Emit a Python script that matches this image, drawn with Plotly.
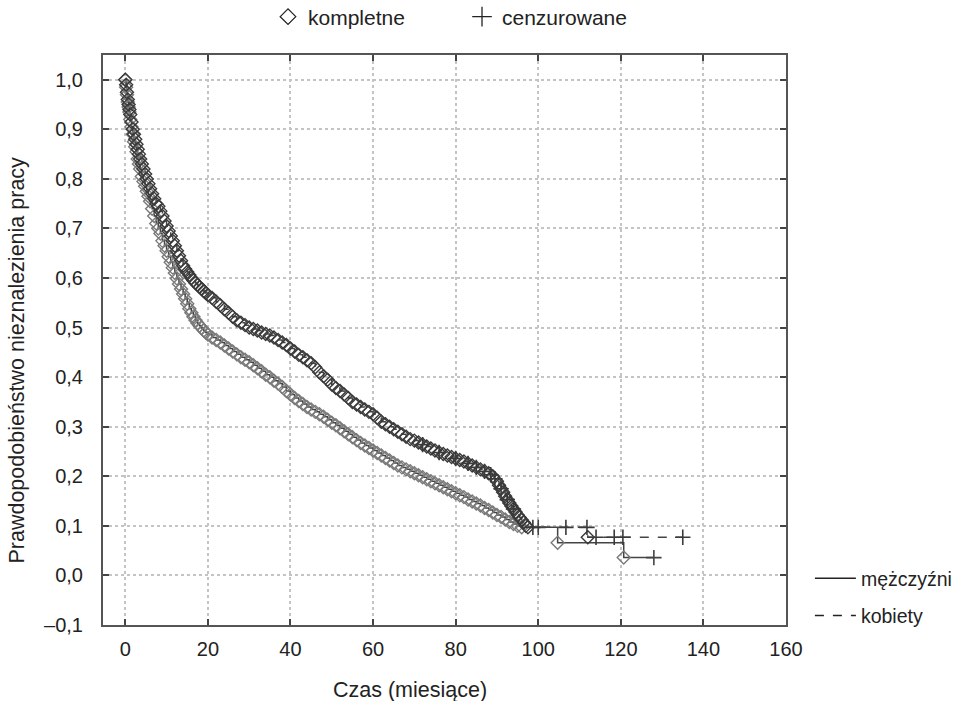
import plotly.graph_objects as go

# ---------------- data ----------------
# kobiety (upper, darker curve): complete events (time in months, survival)
k_time = [0, 0.2, 0.4, 0.6, 0.8, 1.0, 1.2, 1.5, 1.8, 2.1, 2.4, 2.7, 3.0, 3.3, 3.6, 4.0, 4.4, 4.8, 5.2, 5.6,
          6.0, 6.5, 7.0, 7.5, 8.0, 8.5, 9.0, 9.5, 10.0,
          10.5, 11, 11.5, 12, 12.5, 13, 13.5, 14, 14.5, 15, 15.5, 16, 16.5, 17, 17.5, 18, 18.5, 19, 19.5, 20,
          21, 22, 23, 24, 25, 26, 27, 28, 29, 30, 31, 32, 33, 34, 35, 36, 37, 38, 39, 40,
          41, 42, 43, 44, 45, 46, 47, 48, 49, 50, 51, 52, 53, 54, 55, 56, 57, 58, 59, 60,
          61, 62, 63, 64, 65, 66, 67, 68, 69, 70, 71, 72, 73, 74, 75, 76, 77, 78, 79, 80,
          81, 82, 83, 84, 85, 86, 87, 88, 89, 90, 90.5, 91, 91.5, 92, 92.5, 93, 93.5, 94, 94.5, 95,
          95.5, 96, 96.5, 97, 97.5, 112]
k_surv = [1.0, 0.99, 0.975, 0.96, 0.95, 0.94, 0.93, 0.915, 0.90, 0.89, 0.88, 0.87, 0.86, 0.85, 0.84, 0.83, 0.82, 0.81, 0.80, 0.79,
          0.78, 0.77, 0.76, 0.75, 0.745, 0.735, 0.725, 0.715, 0.705,
          0.695, 0.685, 0.675, 0.665, 0.655, 0.645, 0.635, 0.625, 0.618, 0.612, 0.606, 0.60, 0.595, 0.59, 0.586, 0.582, 0.578, 0.574, 0.57, 0.566,
          0.56, 0.552, 0.545, 0.537, 0.53, 0.522, 0.515, 0.51, 0.505, 0.50, 0.497, 0.494, 0.49, 0.487, 0.484, 0.48, 0.475, 0.47, 0.465, 0.458,
          0.452, 0.445, 0.44, 0.434, 0.428, 0.42, 0.41, 0.402, 0.395, 0.385, 0.378, 0.372, 0.365, 0.358, 0.35, 0.345, 0.34, 0.335, 0.33, 0.325,
          0.318, 0.31, 0.305, 0.30, 0.295, 0.29, 0.285, 0.28, 0.275, 0.272, 0.268, 0.264, 0.26, 0.256, 0.252, 0.248, 0.245, 0.242, 0.239, 0.236,
          0.233, 0.23, 0.226, 0.222, 0.218, 0.214, 0.21, 0.206, 0.20, 0.19, 0.182, 0.175, 0.168, 0.16, 0.153, 0.146, 0.14, 0.134, 0.128, 0.122,
          0.117, 0.112, 0.107, 0.10, 0.097, 0.077]
# kobiety censored observations
k_cens_time = [72, 76, 80, 83, 85, 87, 88.5, 89.5, 91, 92.5, 94, 98.7, 106.7, 111.8, 114, 118.4, 120.5, 135]
k_cens_surv = [0.264, 0.248, 0.236, 0.226, 0.218, 0.21, 0.203, 0.195, 0.175, 0.153, 0.134, 0.097, 0.097, 0.097,
               0.077, 0.077, 0.077, 0.077]

# mężczyźni (lower, lighter curve): complete events
m_time = [0, 0.2, 0.4, 0.6, 0.8, 1.0, 1.2, 1.5, 1.8, 2.1, 2.4, 2.7, 3.0, 3.3, 3.6, 4.0, 4.4, 4.8, 5.2, 5.6,
          6.0, 6.5, 7.0, 7.5, 8.0, 8.5, 9.0, 9.5, 10.0,
          10.5, 11, 11.5, 12, 12.5, 13, 13.5, 14, 14.5, 15, 15.5, 16, 16.5, 17, 17.5, 18, 18.5, 19, 19.5, 20,
          21, 22, 23, 24, 25, 26, 27, 28, 29, 30, 31, 32, 33, 34, 35, 36, 37, 38, 39, 40,
          41, 42, 43, 44, 45, 46, 47, 48, 49, 50, 51, 52, 53, 54, 55, 56, 57, 58, 59, 60,
          61, 62, 63, 64, 65, 66, 67, 68, 69, 70, 71, 72, 73, 74, 75, 76, 77, 78, 79, 80,
          81, 82, 83, 84, 85, 86, 87, 88, 89, 90, 91, 92, 93, 94, 95, 96, 104.7, 120.7]
m_surv = [1.0, 0.985, 0.97, 0.955, 0.945, 0.935, 0.92, 0.905, 0.89, 0.875, 0.865, 0.855, 0.84, 0.83, 0.82, 0.805, 0.795, 0.785, 0.775, 0.765,
          0.755, 0.74, 0.725, 0.71, 0.70, 0.69, 0.675, 0.665, 0.655,
          0.643, 0.632, 0.621, 0.61, 0.599, 0.588, 0.578, 0.568, 0.558, 0.548, 0.538, 0.53, 0.522, 0.515, 0.509, 0.504, 0.499, 0.494, 0.49, 0.486,
          0.48, 0.475, 0.47, 0.464, 0.458, 0.452, 0.446, 0.44, 0.435, 0.43, 0.424, 0.418, 0.412, 0.405, 0.40, 0.393, 0.387, 0.38, 0.372, 0.365,
          0.358, 0.352, 0.346, 0.34, 0.335, 0.33, 0.325, 0.32, 0.314, 0.308, 0.303, 0.297, 0.291, 0.285, 0.279, 0.273, 0.267, 0.262, 0.257, 0.252,
          0.247, 0.242, 0.237, 0.232, 0.227, 0.222, 0.218, 0.214, 0.21, 0.206, 0.202, 0.198, 0.194, 0.19, 0.186, 0.182, 0.178, 0.174, 0.17, 0.166,
          0.162, 0.158, 0.153, 0.149, 0.145, 0.141, 0.136, 0.132, 0.127, 0.122, 0.118, 0.113, 0.108, 0.104, 0.10, 0.097, 0.066, 0.036]
# mężczyźni censored observations
m_cens_time = [100, 128]
m_cens_surv = [0.097, 0.036]

# end of follow-up for the step lines
k_end = (135, 0.077)
m_end = (128, 0.036)

x_ticks = [0, 20, 40, 60, 80, 100, 120, 140, 160]
y_ticks = [-0.1, 0.0, 0.1, 0.2, 0.3, 0.4, 0.5, 0.6, 0.7, 0.8, 0.9, 1.0]
y_tick_labels = ["–0,1", "0,0", "0,1", "0,2", "0,3", "0,4", "0,5", "0,6", "0,7", "0,8", "0,9", "1,0"]

x_title = "Czas (miesiące)"
y_title = "Prawdopodobieństwo nieznalezienia pracy"

# ---------------- styling ----------------
FONT = "Liberation Sans, Arial, sans-serif"
DARK = "#3a3a3a"
LIGHT = "#7a7a7a"
TXT = "#222"

fig = go.Figure()

# step lines
fig.add_trace(go.Scatter(x=m_time + [m_end[0]], y=m_surv + [m_end[1]], mode="lines",
                         line=dict(color="#444", width=1.5, shape="hv"), showlegend=False, hoverinfo="skip"))
fig.add_trace(go.Scatter(x=k_time + [k_end[0]], y=k_surv + [k_end[1]], mode="lines",
                         line=dict(color="#444", width=1.5, shape="hv", dash="dash"), showlegend=False, hoverinfo="skip"))

# markers
fig.add_trace(go.Scatter(x=m_time, y=m_surv, mode="markers",
                         marker=dict(symbol="diamond-open", size=10, color=LIGHT, line=dict(width=1.4, color=LIGHT)),
                         showlegend=False))
fig.add_trace(go.Scatter(x=m_cens_time, y=m_cens_surv, mode="markers",
                         marker=dict(symbol="cross-thin", size=11, color="#444", line=dict(width=1.6, color="#444")),
                         showlegend=False))
fig.add_trace(go.Scatter(x=k_time, y=k_surv, mode="markers",
                         marker=dict(symbol="diamond-open", size=10, color=DARK, line=dict(width=1.4, color=DARK)),
                         showlegend=False))
fig.add_trace(go.Scatter(x=k_cens_time, y=k_cens_surv, mode="markers",
                         marker=dict(symbol="cross-thin", size=11, color=DARK, line=dict(width=1.6, color=DARK)),
                         showlegend=False))

# legend entries (top: marker types)
fig.add_trace(go.Scatter(x=[None], y=[None], mode="markers", name="kompletne", legend="legend",
                         marker=dict(symbol="diamond-open", size=12, color=TXT, line=dict(width=1.3, color=TXT))))
fig.add_trace(go.Scatter(x=[None], y=[None], mode="markers", name="cenzurowane", legend="legend",
                         marker=dict(symbol="cross-thin", size=14, color=TXT, line=dict(width=1.3, color=TXT))))
# legend entries (right: groups)
fig.add_trace(go.Scatter(x=[None], y=[None], mode="lines", name="mężczyźni", legend="legend2", legendgroup="m",
                         line=dict(color=TXT, width=1.5)))
fig.add_trace(go.Scatter(x=[None], y=[None], mode="lines", name="kobiety", legend="legend2", legendgroup="k",
                         line=dict(color=TXT, width=1.5, dash="dash")))

axis_common = dict(
    showline=True, linecolor="#555", linewidth=2, mirror="ticks",
    ticks="inside", ticklen=6, tickwidth=2, tickcolor="#444",
    showgrid=True, gridcolor="#c4c4c4", gridwidth=1.5, griddash="dot",
    zeroline=False, tickfont=dict(family=FONT, size=20, color=TXT),
)

fig.update_layout(
    width=958, height=701,
    margin=dict(l=103, r=172, t=55, b=76, autoexpand=False),
    paper_bgcolor="white", plot_bgcolor="white",
    font=dict(family=FONT, size=20, color=TXT),
    xaxis=dict(range=[-5.4, 160], tickvals=x_ticks, ticktext=[str(v) for v in x_ticks],
               ticklabelstandoff=5, **axis_common),
    yaxis=dict(range=[-0.1, 1.05], tickvals=y_ticks, ticktext=y_tick_labels,
               ticklabelstandoff=14, **axis_common),
    annotations=[
        dict(text=x_title, xref="paper", yref="paper", x=0.4495, y=-0.114, xanchor="center", yanchor="middle",
             showarrow=False, font=dict(family=FONT, size=21.5, color=TXT)),
        dict(text=y_title, xref="paper", yref="paper", x=-0.1259, y=0.464, xanchor="center", yanchor="middle",
             textangle=-90, showarrow=False, font=dict(family=FONT, size=21.5, color=TXT)),
    ],
    legend=dict(orientation="h", x=0.2416, xanchor="left", y=1.0667, yanchor="middle",
                entrywidth=149, entrywidthmode="pixels", bgcolor="rgba(0,0,0,0)",
                font=dict(family=FONT, size=21, color=TXT)),
    legend2=dict(orientation="v", x=1.035, xanchor="left", y=0.049, yanchor="middle",
                 tracegroupgap=9, itemwidth=41, bgcolor="rgba(0,0,0,0)",
                 font=dict(family=FONT, size=19.5, color=TXT)),
    showlegend=True,
)

# the page's default 8px body margin would shift the figure; remove it
fig.write_html("out.html", config={"displayModeBar": False},
               post_script="document.body.style.margin='0';")
